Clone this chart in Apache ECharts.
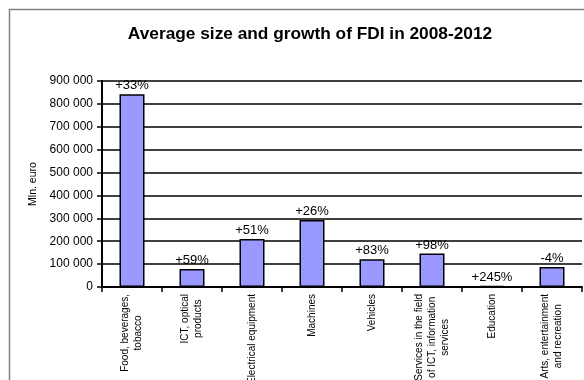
<!DOCTYPE html>
<html>
<head>
<meta charset="utf-8">
<script src="https://cdn.jsdelivr.net/npm/echarts@6/dist/echarts.min.js"></script>
<style>
  html, body { margin: 0; padding: 0; background: #fff; }
  #chart { width: 584px; height: 380px; }
</style>
</head>
<body>
<div id="chart"></div>
<script>
// Sectors (line breaks follow the printed labels)
const categories = [
  'Food, beverages,\ntobacco',
  'ICT, optical\nproducts',
  'Electrical equipment',
  'Machines',
  'Vehicles',
  'Services in the field\nof ICT, information\nservices',
  'Education',
  'Arts, entertainment\nand recreation'
];
// Average FDI stock, Mln. euro
const fdiValues = [842000, 79000, 210000, 293000, 121000, 146000, 4000, 87000];
// Growth over 2008-2012
const growthLabels = ['+33%', '+59%', '+51%', '+26%', '+83%', '+98%', '+245%', '-4%'];
// Value axis ticks
const yTicks = [0, 100000, 200000, 300000, 400000, 500000, 600000, 700000, 800000, 900000];

const FONT = '"Liberation Sans", Arial, sans-serif';

function spaced(v) {
  return String(v).replace(/\B(?=(\d{3})+(?!\d))/g, ' ');
}

const chart = echarts.init(document.getElementById('chart'), null, { renderer: 'canvas' });

chart.setOption({
  backgroundColor: '#ffffff',
  animation: false,
  title: {
    text: 'Average size and growth of FDI in 2008-2012',
    left: 305,
    top: 21,
    textAlign: 'center',
    textStyle: { fontFamily: FONT, fontSize: 17.3, fontWeight: 'bold', color: '#000' }
  },
  graphic: [{
    type: 'polyline',
    shape: { points: [[9.5, 380], [9.5, 9.5], [584, 9.5]] },
    style: { stroke: '#808080', lineWidth: 1.5, fill: null },
    silent: true
  }],
  grid: { left: 102, right: 2, top: 81, bottom: 93, containLabel: false, outerBoundsMode: 'none' },
  xAxis: {
    type: 'category',
    data: categories,
    boundaryGap: true,
    axisLine: { lineStyle: { color: '#000', width: 2 } },
    axisTick: { show: true, alignWithLabel: false, length: 5, lineStyle: { color: '#000', width: 1.5 } },
    axisLabel: {
      interval: 0,
      rotate: 90,
      margin: 7,
      fontFamily: FONT,
      fontSize: 10,
      color: '#000',
      formatter: function (v) {
        return v.split('\n').map(function (s) { return '{c|' + s + '}'; }).join('\n');
      },
      rich: {
        c: { align: 'center', fontFamily: FONT, fontSize: 10, lineHeight: 13, color: '#000' }
      }
    }
  },
  yAxis: {
    type: 'value',
    min: 0,
    max: 900000,
    interval: 100000,
    name: 'Mln. euro',
    nameLocation: 'middle',
    nameRotate: 90,
    nameGap: 59,
    nameTextStyle: { fontFamily: FONT, fontSize: 10.5, color: '#000' },
    axisLine: { show: true, lineStyle: { color: '#000', width: 2 } },
    axisTick: { show: true, length: 5, lineStyle: { color: '#000', width: 1.5 } },
    axisLabel: {
      margin: 9,
      fontFamily: FONT,
      fontSize: 12,
      color: '#000',
      formatter: function (v) { return yTicks.indexOf(v) >= 0 ? spaced(v) : ''; }
    },
    splitLine: { show: true, lineStyle: { color: '#000', width: 1.5 } }
  },
  series: [{
    type: 'bar',
    data: fdiValues,
    barWidth: 25,
    itemStyle: { color: '#9999ff', borderColor: '#000', borderWidth: 1.5 },
    label: {
      show: true,
      position: 'top',
      distance: 2,
      fontFamily: FONT,
      fontSize: 13,
      color: '#000',
      formatter: function (p) { return growthLabels[p.dataIndex]; }
    }
  }]
});
</script>
</body>
</html>
